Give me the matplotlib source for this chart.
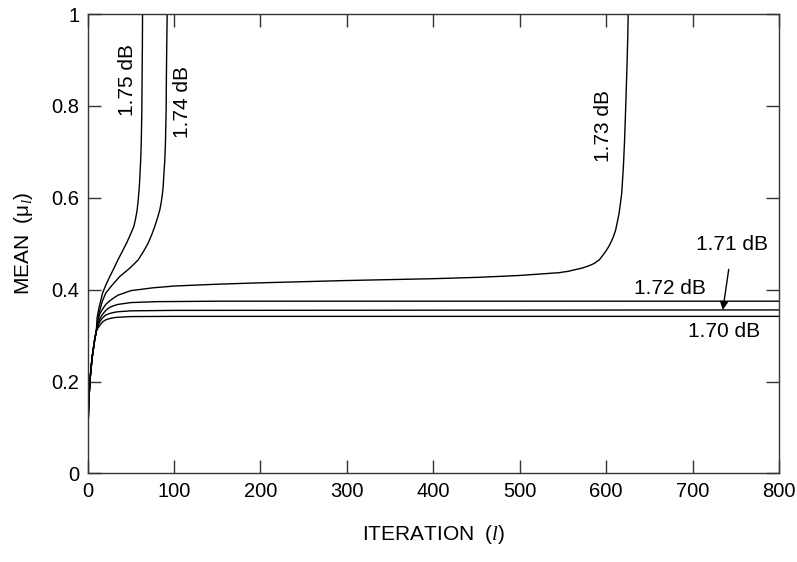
import matplotlib
matplotlib.use('Agg')
import matplotlib.pyplot as plt

plt.rcParams['font.family'] = ['Liberation Sans', 'DejaVu Sans']
plt.rcParams['mathtext.fontset'] = 'custom'
plt.rcParams['mathtext.rm'] = 'Liberation Sans'
plt.rcParams['mathtext.it'] = 'Liberation Serif:italic'

# shared start of all curves
start_x = [0, 0.1, 0.25, 0.5, 1, 2, 3, 5, 8, 10]
start_y = [0, 0.05, 0.08, 0.10, 0.14, 0.18, 0.21, 0.25, 0.29, 0.31]

# 1.70 dB
x170 = [12, 14, 16, 18, 21, 25, 30, 35, 50, 100, 800]
y170 = [0.317, 0.322, 0.327, 0.331, 0.3345, 0.337, 0.339, 0.340, 0.3415,
        0.342, 0.342]
# 1.71 dB
x171 = [12, 14, 16, 18, 21, 25, 30, 35, 50, 100, 800]
y171 = [0.322, 0.330, 0.336, 0.340, 0.345, 0.348, 0.3505, 0.352, 0.354,
        0.355, 0.356]
# 1.72 dB
x172 = [12, 14, 16, 18, 21, 25, 30, 35, 50, 80, 150, 800]
y172 = [0.327, 0.337, 0.343, 0.348, 0.355, 0.361, 0.365, 0.368, 0.372,
        0.374, 0.375, 0.375]
# 1.73 dB
x173 = [12, 14, 16, 18, 21, 25, 30, 35, 50, 75, 100, 150, 200, 300, 400,
        453, 500, 545, 556, 565, 572, 580, 586, 592, 597, 600, 603, 606,
        608.5, 611, 613, 615, 616.5, 618, 619, 620, 621.2, 622.5, 623.5,
        624.3, 625, 625.5, 625.8]
y173 = [0.335, 0.347, 0.354, 0.360, 0.368, 0.375, 0.382, 0.388, 0.398,
        0.404, 0.408, 0.412, 0.415, 0.420, 0.424, 0.427, 0.431, 0.437,
        0.440, 0.444, 0.447, 0.452, 0.457, 0.465, 0.477, 0.485, 0.494,
        0.505, 0.516, 0.530, 0.548, 0.567, 0.588, 0.610, 0.639, 0.670,
        0.720, 0.790, 0.850, 0.900, 0.950, 1.0, 1.05]
# 1.74 dB
x174 = [12, 14, 17, 21, 28.8, 37.3, 48.8, 58.5, 64.5, 70, 74.2, 77.7, 80.8,
        83.5, 85.3, 86.6, 87.5, 88, 89.2, 90, 90.8, 91.1, 91.5, 92, 92.1]
y174 = [0.340, 0.355, 0.375, 0.393, 0.411, 0.429, 0.447, 0.465, 0.483,
        0.5015, 0.520, 0.538, 0.556, 0.574, 0.592, 0.610, 0.628, 0.646,
        0.680, 0.719, 0.791, 0.864, 0.930, 1.0, 1.05]
# 1.75 dB
x175 = [11, 13, 17.3, 21, 25.7, 30, 35, 40, 45, 49.5, 53.5, 55.5, 57.3,
        58.7, 59.8, 60.4, 61.3, 62, 62.7, 63, 63.3, 63.5, 63.6]
y175 = [0.340, 0.360, 0.393, 0.410, 0.429, 0.445, 0.465, 0.483, 0.5015,
        0.520, 0.538, 0.555, 0.574, 0.600, 0.625, 0.646, 0.680, 0.719,
        0.791, 0.864, 0.930, 1.0, 1.05]

curves = [(x170, y170), (x171, y171), (x172, y172),
          (x173, y173), (x174, y174), (x175, y175)]

fig = plt.figure(figsize=(7.97, 5.62), dpi=100)
ax = fig.add_axes([0.110, 0.1575, 0.8674, 0.8175])

for xs, ys in curves:
    ax.plot(start_x + xs, start_y + ys, color='black', lw=1.0)

ax.set_xlim(0, 800)
ax.set_ylim(0, 1)
ax.set_xticks(range(0, 801, 100))
ax.set_yticks([0, 0.2, 0.4, 0.6, 0.8, 1])
ax.set_yticklabels(['0', '0.2', '0.4', '0.6', '0.8', '1'])
ax.tick_params(direction='in', length=9.5, width=1.0, top=True, right=True,
               labelsize=14.5, pad=6, color='#333333')
for s in ax.spines.values():
    s.set_linewidth(1.0)
    s.set_color('#333333')

ax.set_xlabel('ITERATION  ($l$)', fontsize=15, labelpad=16)
ax.set_ylabel(r'MEAN  ($\mathrm{μ}_l$)', fontsize=15, labelpad=11.5)

fs = 15
ax.text(46.5, 0.857, '1.75 dB', rotation=90, ha='center', va='center', fontsize=fs)
ax.text(110, 0.809, '1.74 dB', rotation=90, ha='center', va='center', fontsize=fs)
ax.text(597, 0.757, '1.73 dB', rotation=90, ha='center', va='center', fontsize=fs)
ax.text(674, 0.403, '1.72 dB', ha='center', va='center', fontsize=fs)
ax.text(737, 0.31, '1.70 dB', ha='center', va='center', fontsize=fs)
ax.annotate('1.71 dB', xy=(735, 0.356), xytext=(746, 0.498),
            ha='center', va='center', fontsize=fs,
            arrowprops=dict(arrowstyle='-|>', color='black', lw=1.0,
                            shrinkA=9, shrinkB=0, mutation_scale=12))

fig.savefig('out.png', dpi=100)
